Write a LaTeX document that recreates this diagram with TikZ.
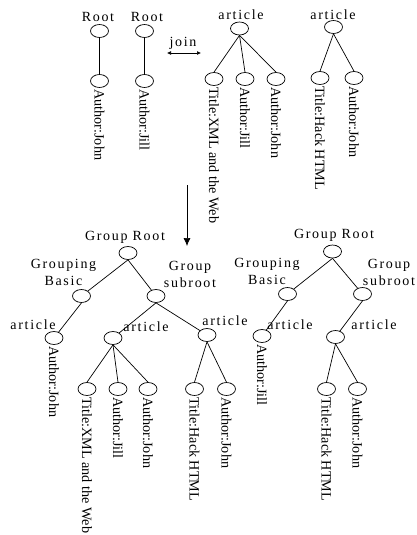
\documentclass[tikz,border=0pt]{standalone}
\usepackage{fontspec}
\setmainfont{Liberation Serif}
\newfontfamily\spacedfont[LetterSpace=12]{Liberation Serif}
\usepackage{tikz}
\usetikzlibrary{shapes.geometric,arrows.meta}

\begin{document}
\begin{tikzpicture}[
  x=1pt, y=-1pt,
  line width=0.7pt,
  elem/.style={draw, ellipse, minimum width=18pt, minimum height=13pt, inner sep=0pt},
  tag/.style={font=\spacedfont\fontsize{14}{17}\selectfont, inner sep=0pt, align=center},
  value/.style={font=\fontsize{14.2}{16}\selectfont, rotate=-90, anchor=west, inner sep=1pt},
  edge/.style={draw}
]
\useasboundingbox (0,0) rectangle (417,535);

% two small trees and the two article trees
\node[elem] (rootA) at (99.5,31) {};
\node[tag] (rootAtag) at (98,17) {Root};
\node[elem] (johnA) at (99.5,81) {};
\node[value] (johnAval) at (johnA.south) {Author:John};
\node[elem] (rootB) at (144.5,31) {};
\node[tag] (rootBtag) at (147,17) {Root};
\node[elem] (jillB) at (144.5,81) {};
\node[value] (jillBval) at (jillB.south) {Author:Jill};
\draw (rootA) -- (johnA);
\draw (rootB) -- (jillB);

\node[tag] (jointag) at (183,43) {join};
\coordinate (joinL) at (167,53);
\coordinate (joinR) at (201,53);
\draw[{Latex[length=4pt,width=4pt]}-{Latex[length=4pt,width=4pt]}] (joinL) -- (joinR);

\node[elem] (artA) at (239.5,28.5) {};
\node[tag] (artAtag) at (241,15) {article};
\node[elem] (titleA) at (214,79) {};
\node[value] (titleAval) at (titleA.south) {Title:XML and the Web};
\node[elem] (jillA) at (245,79) {};
\node[value] (jillAval) at (jillA.south) {Author:Jill};
\node[elem] (johnC) at (276,79) {};
\node[value] (johnCval) at (johnC.south) {Author:John};
\draw (artA.south) -- (titleA.north);
\draw (artA.south) -- (jillA.north);
\draw (artA.south) -- (johnC.north);

\node[elem] (artB) at (333.5,27) {};
\node[tag] (artBtag) at (333,14.5) {article};
\node[elem] (titleB) at (320,78) {};
\node[value] (titleBval) at (titleB.south) {Title:Hack HTML};
\node[elem] (johnD) at (354,78) {};
\node[value] (johnDval) at (johnD.south) {Author:John};
\draw (artB.south) -- (titleB.north);
\draw (artB.south) -- (johnD.north);

% result of the join
\coordinate (downTop) at (187,185);
\coordinate (downEnd) at (187,246);
\draw[-{Latex[length=8pt,width=7pt]}] (downTop) -- (downEnd);

% left grouped tree
\node[elem] (groot1) at (128,253) {};
\node[tag] (groot1tag) at (125,237) {Group Root};
\node[elem] (gbasic1) at (81.5,296) {};
\node[tag] (gbasic1tag) at (63.5,272.5) {Grouping\\Basic};
\node[elem] (gsub1) at (156,296) {};
\node[tag] (gsub1tag) at (190,274) {Group\\subroot};
\draw (groot1.south) -- (gbasic1);
\draw (groot1.south) -- (gsub1);

\node[elem] (artL1) at (54,338) {};
\node[tag] (artL1tag) at (33,325) {article};
\node[value] (artL1val) at (artL1.south) {Author:John};
\draw (gbasic1.south) -- (artL1);

\node[elem] (artM1) at (113,338) {};
\node[tag] (artM1tag) at (146,327) {article};
\node[elem] (titleM1) at (87,389) {};
\node[value] (titleM1val) at (titleM1.south) {Title:XML and the Web};
\node[elem] (jillM1) at (118,389) {};
\node[value] (jillM1val) at (jillM1.south) {Author:Jill};
\node[elem] (johnM1) at (148,389) {};
\node[value] (johnM1val) at (johnM1.south) {Author:John};
\draw (gsub1.south) -- (artM1);
\draw (artM1.south) -- (titleM1.north);
\draw (artM1.south) -- (jillM1.north);
\draw (artM1.south) -- (johnM1.north);

\node[elem] (artR1) at (207,335) {};
\node[tag] (artR1tag) at (225,321) {article};
\node[elem] (titleR1) at (194.5,389) {};
\node[value] (titleR1val) at (titleR1.south) {Title:Hack HTML};
\node[elem] (johnR1) at (226.5,389) {};
\node[value] (johnR1val) at (johnR1.south) {Author:John};
\draw (gsub1.south) -- (artR1);
\draw (artR1.south) -- (titleR1.north);
\draw (artR1.south) -- (johnR1.north);

% right grouped tree
\node[elem] (groot2) at (332.5,251.5) {};
\node[tag] (groot2tag) at (334,235) {Group Root};
\node[elem] (gbasic2) at (287.5,294) {};
\node[tag] (gbasic2tag) at (267,271.5) {Grouping\\Basic};
\node[elem] (gsub2) at (362.5,294) {};
\node[tag] (gsub2tag) at (389,272.5) {Group\\subroot};
\draw (groot2.south) -- (gbasic2);
\draw (groot2.south) -- (gsub2);

\node[elem] (artL2) at (262,336) {};
\node[tag] (artL2tag) at (290,325) {article};
\node[value] (artL2val) at (artL2.south) {Author:Jill};
\draw (gbasic2.south) -- (artL2);

\node[elem] (artR2) at (335.5,337) {};
\node[tag] (artR2tag) at (374,325) {article};
\node[elem] (titleR2) at (326.5,389) {};
\node[value] (titleR2val) at (titleR2.south) {Title:Hack HTML};
\node[elem] (johnR2) at (357.5,389) {};
\node[value] (johnR2val) at (johnR2.south) {Author:John};
\draw (gsub2.south) -- (artR2);
\draw (artR2.south) -- (titleR2.north);
\draw (artR2.south) -- (johnR2.north);

\end{tikzpicture}
\end{document}
